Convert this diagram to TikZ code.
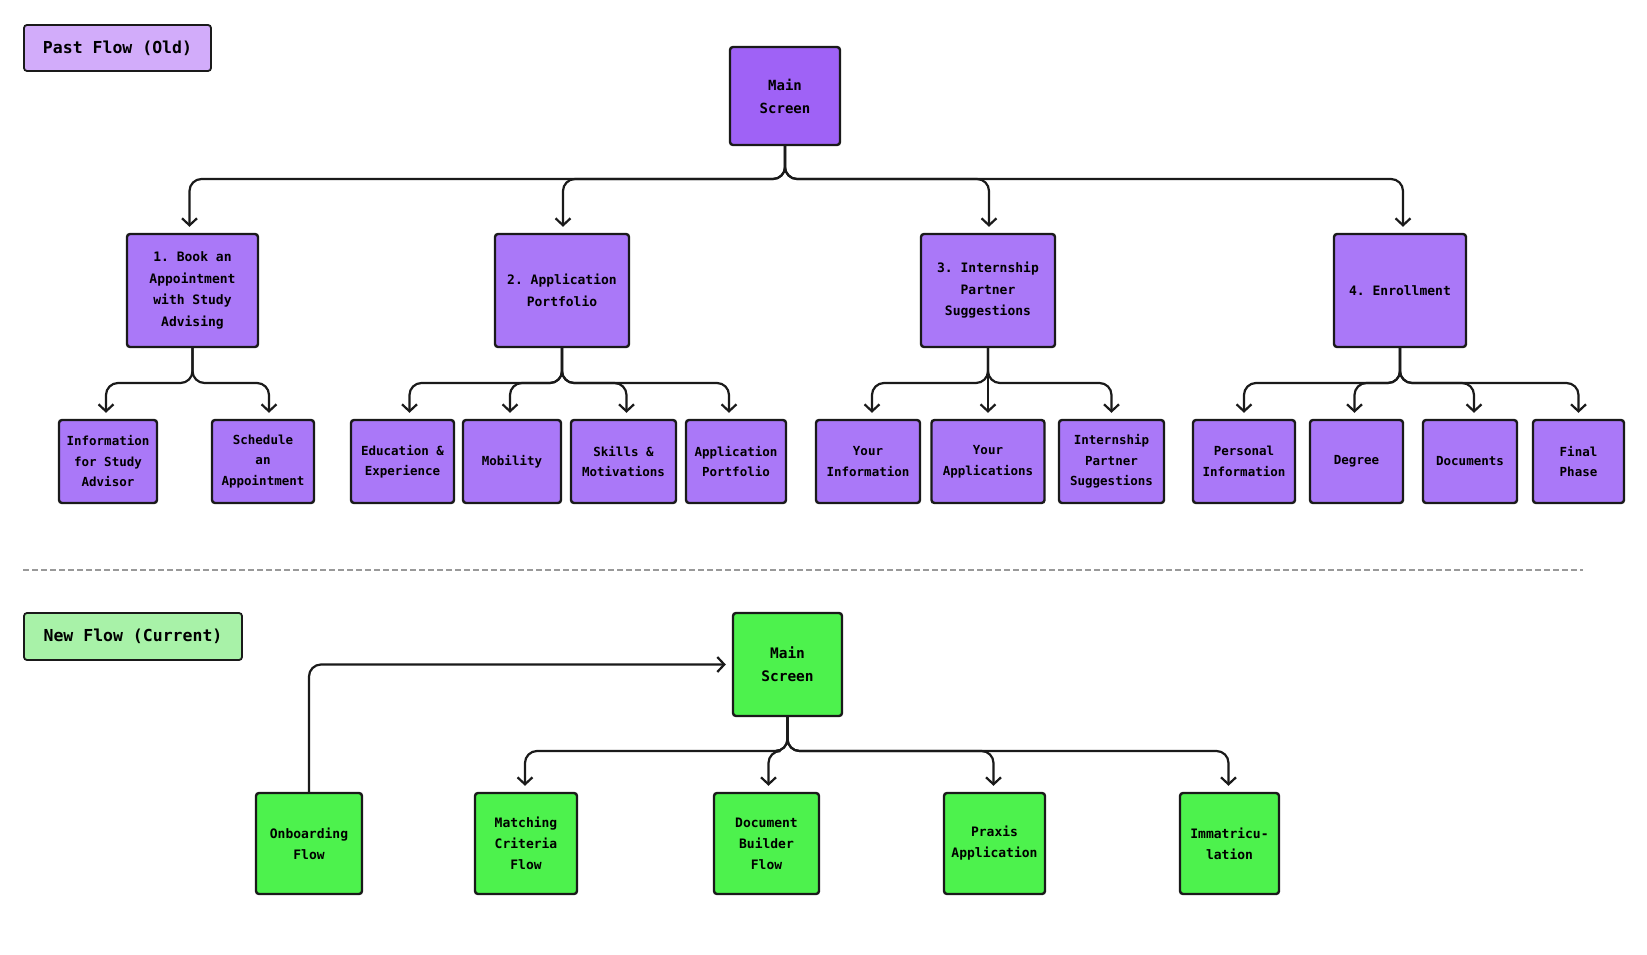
\documentclass[tikz,border=0pt]{standalone}
\usepackage{fontspec}
\newfontfamily\monof{DejaVu Sans Mono}
\usetikzlibrary{arrows.meta}
\frenchspacing
\definecolor{pmain}{HTML}{9F62F6}
\definecolor{pbox}{HTML}{AA78F8}
\definecolor{plbl}{HTML}{D2ACFA}
\definecolor{gmain}{HTML}{4DF24D}
\definecolor{glbl}{HTML}{A8F2A8}
\definecolor{edge}{HTML}{1A1A1A}
\tikzset{
  box/.style={draw=edge, line width=2.4pt, rounded corners=3pt, align=center, inner sep=0pt, font=\monof\bfseries},
  lbl/.style={box, line width=1.8pt},
  conn/.style={draw=edge, line width=2.2pt, rounded corners=12pt, -{Straight Barb[length=7pt,width=15pt,line width=2.2pt]}, shorten >=6pt},
}
\begin{document}
\begin{tikzpicture}[x=1pt,y=-1pt]
\useasboundingbox[fill=white] (0,0) rectangle (1647,955);
% labels
\node[lbl, fill=plbl, minimum width=187, minimum height=46, font=\monof\bfseries\fontsize{16.5}{20}\selectfont] (pastlbl) at (117.5,48) {Past Flow (Old)};
\node[lbl, fill=glbl, minimum width=218, minimum height=47, font=\monof\bfseries\fontsize{16.5}{20}\selectfont] (newlbl) at (133,636.5) {New Flow (Current)};
% past main
\node[box, fill=pmain, minimum width=110, minimum height=98, font=\monof\bfseries\fontsize{14}{23}\selectfont] (main1) at (785,96) {Main\\Screen};
% level 1
\tikzset{lone/.style={box, fill=pbox, minimum height=113, font=\monof\bfseries\fontsize{13}{21.5}\selectfont}}
\node[lone, minimum width=131] (b1) at (192.5,290.5) {1. Book an\\Appointment\\with Study\\Advising};
\node[lone, minimum width=134] (b2) at (562,290.5) {2. Application\\Portfolio};
\node[lone, minimum width=134] (b3) at (988,290.5) {3. Internship\\Partner\\Suggestions};
\node[lone, minimum width=132] (b4) at (1400,290.5) {4. Enrollment};
% level 2
\tikzset{ltwo/.style={box, fill=pbox, minimum height=83, font=\monof\bfseries\fontsize{12.5}{20.5}\selectfont}}
\node[ltwo, minimum width=98] (c11) at (108,461.5) {Information\\for Study\\Advisor};
\node[ltwo, minimum width=102] (c12) at (263,461.5) {Schedule\\an\\Appointment};
\node[ltwo, minimum width=103] (c21) at (402.5,461.5) {Education \&\\Experience};
\node[ltwo, minimum width=98] (c22) at (512,461.5) {Mobility};
\node[ltwo, minimum width=105] (c23) at (623.5,461.5) {Skills \&\\Motivations};
\node[ltwo, minimum width=100] (c24) at (736,461.5) {Application\\Portfolio};
\node[ltwo, minimum width=104] (c31) at (868,461.5) {Your\\Information};
\node[ltwo, minimum width=113] (c32) at (988,461.5) {Your\\Applications};
\node[ltwo, minimum width=105] (c33) at (1111.5,461.5) {Internship\\Partner\\Suggestions};
\node[ltwo, minimum width=102] (c41) at (1244,461.5) {Personal\\Information};
\node[ltwo, minimum width=93] (c42) at (1356.5,461.5) {Degree};
\node[ltwo, minimum width=94] (c43) at (1470,461.5) {Documents};
\node[ltwo, minimum width=91] (c44) at (1578.5,461.5) {Final\\Phase};
% bus coordinates
\coordinate (busA) at (0,179);
\coordinate (busB) at (0,383);
\coordinate (busC) at (0,751);
% connectors past
\foreach \c/\d in {b1/-3,b2/1,b3/1,b4/3} {\draw[conn] (main1.south) |- ([xshift=\d]\c.north |- busA) -- ([xshift=\d]\c.north);}
\foreach \c/\d in {c11/-2,c12/6} {\draw[conn] (b1.south) |- ([xshift=\d]\c.north |- busB) -- ([xshift=\d]\c.north);}
\foreach \c/\d in {c21/7,c22/-2,c23/3,c24/-7} {\draw[conn] (b2.south) |- ([xshift=\d]\c.north |- busB) -- ([xshift=\d]\c.north);}
\foreach \c/\d in {c31/4,c33/0} {\draw[conn] (b3.south) |- ([xshift=\d]\c.north |- busB) -- ([xshift=\d]\c.north);}
\draw[conn] (b3.south) -- (c32.north);
\foreach \c/\d in {c41/0,c42/-2,c43/4,c44/0} {\draw[conn] (b4.south) |- ([xshift=\d]\c.north |- busB) -- ([xshift=\d]\c.north);}
% separator
\draw[draw=gray!80, line width=1.3pt, dash pattern=on 6pt off 3pt] (23,570) -- (1583,570);
% new flow
\node[box, fill=gmain, minimum width=109, minimum height=103, font=\monof\bfseries\fontsize{14.5}{23}\selectfont] (main2) at (787.5,664.5) {Main\\Screen};
\tikzset{gbox/.style={box, fill=gmain, minimum height=101, font=\monof\bfseries\fontsize{13}{21}\selectfont}}
\node[gbox, minimum width=106] (onb) at (309,843.5) {Onboarding\\Flow};
\node[gbox, minimum width=102] (mat) at (526,843.5) {Matching\\Criteria\\Flow};
\node[gbox, minimum width=105] (doc) at (766.5,843.5) {Document\\Builder\\Flow};
\node[gbox, minimum width=101] (pra) at (994.5,843.5) {Praxis\\Application};
\node[gbox, minimum width=99] (imm) at (1229.5,843.5) {Immatricu-\\lation};
\draw[conn] (onb.north) |- (main2.west);
\foreach \c/\d in {mat/-1,doc/2,pra/-1,imm/-1} {\draw[conn] (main2.south) |- ([xshift=\d]\c.north |- busC) -- ([xshift=\d]\c.north);}
\end{tikzpicture}
\end{document}
